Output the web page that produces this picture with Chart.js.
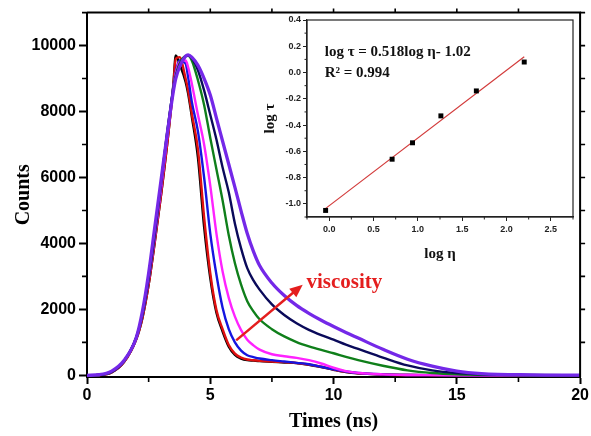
<!DOCTYPE html>
<html><head><meta charset="utf-8">
<script src="https://cdn.jsdelivr.net/npm/chart.js@4/dist/chart.umd.min.js"></script>
<style>
html,body{margin:0;padding:0;background:#fff;}
#wrap{position:relative;width:591px;height:436px;background:#fff;}
#main{position:absolute;left:0;top:0;width:591px;height:436px;}
#inset{position:absolute;left:255px;top:8px;width:326px;height:259px;}
</style></head><body>
<div id="wrap"><canvas id="main" width="591" height="436"></canvas><canvas id="inset" width="326" height="259"></canvas></div>
<script>
// ---------- main decay curves ----------
const times = [0,0.5,1,1.5,2,2.25,2.5,2.75,3,3.25,3.5,3.6,3.75,4,4.1,4.25,4.5,4.75,5,5.25,5.5,5.75,6,6.25,6.5,6.75,7,7.5,8,8.5,9,9.5,10,10.5,11,12,13,14,15,16,18,20];
const blackCounts   = [0,10,90,400,1100,1750,2750,4050,5450,7000,8800,9700,9450,8900,8550,7850,6600,4500,2950,1900,1330,870,620,510,460,445,430,410,390,370,320,250,170,100,60,25,10,5,3,2,1,0];
const redCounts     = [0,10,90,400,1100,1750,2750,4050,5450,7000,8750,9600,9650,9000,8650,7950,6850,4800,3100,1980,1400,920,660,540,480,458,440,420,400,375,330,260,175,105,60,25,10,5,3,2,1,0];
const blueCounts    = [0,12,100,430,1150,1850,2900,4200,5650,7250,8750,9200,9550,9450,9050,8300,7400,6000,4300,3050,2050,1400,1000,750,610,555,510,460,420,380,335,260,180,115,70,30,12,6,3,2,1,0];
const magentaCounts = [0,12,100,430,1150,1850,2900,4200,5650,7200,8700,9150,9500,9550,9350,8850,7900,7000,5750,4300,3150,2350,1780,1370,1080,910,780,640,580,530,460,360,230,130,75,30,12,6,3,2,1,0];
const greenCounts   = [0,12,100,430,1150,1850,2950,4300,5800,7350,8700,9100,9450,9680,9690,9550,8950,8200,7200,6250,5300,4250,3400,2750,2250,1940,1700,1400,1180,1010,880,770,670,560,460,290,150,70,30,15,5,2];
const navyCounts    = [0,12,100,430,1150,1850,2950,4300,5800,7350,8650,9050,9400,9680,9700,9620,9250,8640,7900,7150,6300,5550,4600,3850,3250,2880,2600,2150,1830,1580,1380,1220,1080,930,800,540,300,150,70,35,10,3];
const violetCounts  = [0,20,130,450,1150,1950,3100,4500,5900,7300,8600,9000,9350,9680,9720,9650,9400,9000,8500,7800,7100,6400,5700,4980,4300,3760,3330,2800,2420,2120,1880,1670,1480,1300,1130,790,490,280,130,55,15,5];
const xTicks = [0,5,10,15,20];
const yTicks = [0,2000,4000,6000,8000,10000];

// ---------- inset ----------
const logEta = [-0.04, 0.71, 0.94, 1.26, 1.66, 2.20];
const logTau = [-1.05, -0.66, -0.535, -0.33, -0.14, 0.08];
const fitX = [-0.05, 2.20];
const fitY = [-1.04, 0.12];
const insetXTicks = [0,0.5,1.0,1.5,2.0,2.5];
const insetYTicks = [-1.0,-0.8,-0.6,-0.4,-0.2,0.0,0.2,0.4];

const SANS = '"Liberation Sans", Arial, sans-serif';
const SERIF = '"Liberation Serif", "Times New Roman", serif';

const curves = [
  {name:'c1', values:blackCounts,   color:'#000000', width:2.4, order:6},
  {name:'c2', values:redCounts,     color:'#e01010', width:2.4, order:5},
  {name:'c3', values:blueCounts,    color:'#1515e0', width:2.4, order:4},
  {name:'c4', values:magentaCounts, color:'#ff22ff', width:2.4, order:3},
  {name:'c5', values:greenCounts,   color:'#0f7f1a', width:2.4, order:2},
  {name:'c6', values:navyCounts,    color:'#0a0a5a', width:2.4, order:1},
  {name:'c7', values:violetCounts,  color:'#7428e8', width:3.3, order:0}
];

const mainFrame = {
  id:'mainFrame',
  afterDraw(chart){
    const ctx = chart.ctx, a = chart.chartArea, xs = chart.scales.x, ys = chart.scales.y;
    ctx.save();
    ctx.strokeStyle = '#000'; ctx.lineWidth = 2;
    ctx.beginPath();
    ctx.moveTo(a.left, a.top); ctx.lineTo(a.right, a.top); ctx.lineTo(a.right, a.bottom);
    ctx.stroke();
    ctx.lineWidth = 1.6;
    ctx.beginPath();
    for (let v = 1000; v <= 11000; v += 2000) { const p = ys.getPixelForValue(v); ctx.moveTo(a.left-5, p); ctx.lineTo(a.left, p); }
    for (let v = 1000; v <= 11000; v += 1000) { const p = ys.getPixelForValue(v); ctx.moveTo(a.right, p); ctx.lineTo(a.right+5, p); }
    for (let v = 2.5; v < 20; v += 5) { const p = xs.getPixelForValue(v); ctx.moveTo(p, a.bottom); ctx.lineTo(p, a.bottom+5); }
    for (let v = 2.5; v < 20; v += 2.5) { const p = xs.getPixelForValue(v); ctx.moveTo(p, a.top); ctx.lineTo(p, a.top-4); }
    ctx.stroke();
    // arrow + label
    const x0 = xs.getPixelForValue(6.05), y0 = ys.getPixelForValue(1060);
    const x1 = xs.getPixelForValue(8.75), y1 = ys.getPixelForValue(2750);
    const ang = Math.atan2(y1-y0, x1-x0);
    ctx.strokeStyle = '#e41e1e'; ctx.fillStyle = '#e41e1e'; ctx.lineWidth = 2.5;
    ctx.beginPath(); ctx.moveTo(x0,y0); ctx.lineTo(x1 - 8*Math.cos(ang), y1 - 8*Math.sin(ang)); ctx.stroke();
    ctx.beginPath();
    ctx.moveTo(x1, y1);
    ctx.lineTo(x1 - 13*Math.cos(ang) + 5.5*Math.sin(ang), y1 - 13*Math.sin(ang) - 5.5*Math.cos(ang));
    ctx.lineTo(x1 - 13*Math.cos(ang) - 5.5*Math.sin(ang), y1 - 13*Math.sin(ang) + 5.5*Math.cos(ang));
    ctx.closePath(); ctx.fill();
    ctx.font = 'bold 21px ' + SERIF; ctx.textBaseline = 'middle'; ctx.textAlign = 'left';
    ctx.fillText('viscosity', xs.getPixelForValue(8.9), ys.getPixelForValue(2800));
    ctx.restore();
  }
};

new Chart(document.getElementById('main'), {
  type:'line',
  data:{datasets: curves.map(c => ({
    label:c.name,
    data: times.map((t,i) => ({x:t, y:c.values[i]})),
    borderColor:c.color, borderWidth:c.width, pointRadius:0,
    cubicInterpolationMode:'monotone', fill:false, order:c.order
  }))},
  options:{
    responsive:false, animation:false, events:[],
    layout:{padding:0},
    plugins:{legend:{display:false}, tooltip:{enabled:false}},
    scales:{
      x:{type:'linear', min:0, max:20,
        afterBuildTicks:s => { s.ticks = xTicks.map(v => ({value:v})); },
        afterFit:s => { s.height = 59; },
        grid:{display:true, drawOnChartArea:false, drawTicks:true, tickLength:7, tickWidth:2, tickColor:'#000'},
        border:{display:true, color:'#000', width:2},
        ticks:{color:'#000', font:{family:SANS, size:16, weight:'bold'}, padding:2, maxRotation:0, callback:v => String(v)},
        title:{display:true, text:'Times (ns)', color:'#000', font:{family:SERIF, size:20, weight:'bold'}, padding:{top:0, bottom:2}}
      },
      y:{type:'linear', min:-50, max:11000,
        afterBuildTicks:s => { s.ticks = yTicks.map(v => ({value:v})); },
        afterFit:s => { s.width = 87; },
        grid:{display:true, drawOnChartArea:false, drawTicks:true, tickLength:8, tickWidth:2, tickColor:'#000'},
        border:{display:true, color:'#000', width:2},
        ticks:{color:'#000', font:{family:SANS, size:16, weight:'bold'}, padding:3, callback:v => String(v)},
        title:{display:true, text:'Counts', color:'#000', font:{family:SERIF, size:20, weight:'bold'}, padding:{top:12, bottom:0}}
      }
    }
  },
  plugins:[mainFrame]
});

const insetFrame = {
  id:'insetFrame',
  afterDraw(chart){
    const ctx = chart.ctx, a = chart.chartArea, xs = chart.scales.x, ys = chart.scales.y;
    ctx.save();
    ctx.strokeStyle = '#222'; ctx.lineWidth = 1.2;
    ctx.strokeRect(a.left, a.top, a.right-a.left, a.bottom-a.top);
    ctx.lineWidth = 1;
    ctx.beginPath();
    for (let v = -1.1; v <= 0.4; v += 0.2) { const p = ys.getPixelForValue(v); ctx.moveTo(a.left-2.5, p); ctx.lineTo(a.left, p); }
    for (let v = -0.25; v <= 2.75; v += 0.5) { const p = xs.getPixelForValue(v); ctx.moveTo(p, a.bottom); ctx.lineTo(p, a.bottom+2.5); }
    ctx.stroke();
    ctx.fillStyle = '#111'; ctx.textBaseline = 'middle'; ctx.textAlign = 'left';
    ctx.font = 'bold 15px ' + SERIF;
    ctx.fillText('log \u03c4 = 0.518log \u03b7- 1.02', xs.getPixelForValue(-0.05), ys.getPixelForValue(0.152));
    ctx.fillText('R\u00b2 = 0.994', xs.getPixelForValue(-0.05), ys.getPixelForValue(-0.008));
    ctx.restore();
  }
};

new Chart(document.getElementById('inset'), {
  type:'scatter',
  data:{datasets:[
    {type:'line', label:'fit', data: fitX.map((x,i) => ({x, y:fitY[i]})), borderColor:'#d23a3a', borderWidth:1.2, pointRadius:0, fill:false, order:1},
    {type:'scatter', label:'data', data: logEta.map((x,i) => ({x, y:logTau[i]})), pointStyle:'rect', pointRadius:3.5, backgroundColor:'#000', borderColor:'#000', borderWidth:0, order:0}
  ]},
  options:{
    responsive:false, animation:false, events:[],
    layout:{padding:{top:12, right:8, left:0, bottom:0}},
    plugins:{legend:{display:false}, tooltip:{enabled:false}},
    scales:{
      x:{type:'linear', min:-0.25, max:2.75,
        afterBuildTicks:s => { s.ticks = insetXTicks.map(v => ({value:v})); },
        afterFit:s => { s.height = 50; },
        grid:{display:true, drawOnChartArea:false, drawTicks:true, tickLength:4, tickWidth:1, tickColor:'#222'},
        border:{display:true, color:'#222', width:1.2},
        ticks:{color:'#222', font:{family:SANS, size:9, weight:'bold'}, padding:3, maxRotation:0, callback:v => Number(v).toFixed(1)},
        title:{display:true, text:'log \u03b7', color:'#111', font:{family:SERIF, size:15, weight:'bold'}, padding:{top:2, bottom:4}}
      },
      y:{type:'linear', min:-1.1, max:0.4,
        afterBuildTicks:s => { s.ticks = insetYTicks.map(v => ({value:v})); },
        afterFit:s => { s.width = 52; },
        grid:{display:true, drawOnChartArea:false, drawTicks:true, tickLength:4, tickWidth:1, tickColor:'#222'},
        border:{display:true, color:'#222', width:1.2},
        ticks:{color:'#222', font:{family:SANS, size:9, weight:'bold'}, padding:2, callback:v => Number(v).toFixed(1)},
        title:{display:true, text:'log \u03c4', color:'#111', font:{family:SERIF, size:15, weight:'bold'}, padding:{top:6, bottom:0}}
      }
    }
  },
  plugins:[insetFrame]
});
</script>
</body></html>
